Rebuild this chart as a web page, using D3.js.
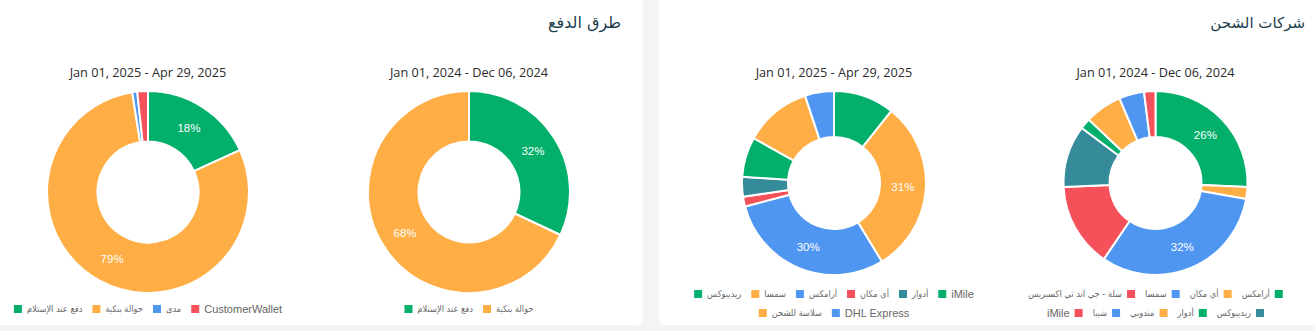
<!DOCTYPE html>
<html>
<head>
<meta charset="utf-8">
<script src="https://cdn.jsdelivr.net/npm/d3@7/dist/d3.min.js"></script>
<style>
  html, body { margin: 0; padding: 0; background: #f4f4f4; }
  svg { display: block; }
</style>
</head>
<body>
<svg id="chart" width="1315" height="331"></svg>
<script>
// ---------- DATA ----------
const palette = ["#02af6b", "#feae45", "#4f96f1", "#f4515b", "#358b9a"];

const panelTitles = ["طرق الدفع", "شركات الشحن"];
const dateLabels = ["Jan 01, 2025 - Apr 29, 2025", "Jan 01, 2024 - Dec 06, 2024"];

const payCats2025 = ["دفع عند الإستلام", "حوالة بنكية", "مدى", "CustomerWallet"];
const payVals2025 = [18.2, 79.3, 0.8, 1.7];

const payCats2024 = ["دفع عند الإستلام", "حوالة بنكية"];
const payVals2024 = [32, 68];

const shipCats2025 = ["ريديبوكس", "سمسا", "أرامكس", "أي مكان", "أدوار", "iMile", "سلاسة للشحن", "DHL Express"];
const shipVals2025 = [10.7, 30.6, 29.6, 1.7, 3.5, 7.0, 11.8, 5.1];

const shipCats2024 = ["أرامكس", "أي مكان", "سمسا", "سلة - جي اند تي اكسبريس", "ريديبوكس", "أدوار", "مندوبي", "شيبا", "iMile"];
const shipVals2024 = [25.7, 2.1, 31.7, 14.8, 10.9, 1.9, 6.5, 4.4, 2.0];

// ---------- LAYOUT ----------
const svg = d3.select("#chart");

// cards
svg.append("rect").attr("x", -10).attr("y", -8).attr("width", 653).attr("height", 333)
  .attr("rx", 7).attr("fill", "#ffffff");
svg.append("rect").attr("x", 659).attr("y", -8).attr("width", 670).attr("height", 333)
  .attr("rx", 7).attr("fill", "#ffffff");

// panel titles
const titleFont = "'DejaVu Sans', 'Noto Sans', sans-serif";
svg.append("text").attr("x", 621).attr("y", 28).attr("text-anchor", "end")
  .attr("font-family", titleFont).attr("font-size", 16).attr("fill", "#1d3d4d")
  .text(panelTitles[0]);
svg.append("text").attr("x", 1305).attr("y", 28).attr("text-anchor", "end")
  .attr("font-family", titleFont).attr("font-size", 15).attr("fill", "#1d3d4d")
  .text(panelTitles[1]);

const charts = [
  { cats: payCats2025, vals: payVals2025, date: dateLabels[0], cx: 148, cy: 192, R: 101, rows: [4], legendY: [309], rtl: false },
  { cats: payCats2024, vals: payVals2024, date: dateLabels[1], cx: 469, cy: 192, R: 101, rows: [2], legendY: [309], rtl: false },
  { cats: shipCats2025, vals: shipVals2025, date: dateLabels[0], cx: 834, cy: 183, R: 92, rows: [6, 2], legendY: [294, 313], rtl: false },
  { cats: shipCats2024, vals: shipVals2024, date: dateLabels[1], cx: 1155.5, cy: 183, R: 92, rows: [4, 5], legendY: [294, 313], rtl: true }
];

const labelFont = "'Liberation Sans', Arial, sans-serif";
const arabicFont = "'DejaVu Sans Condensed', 'DejaVu Sans', sans-serif";
const isArabic = s => /[\u0600-\u06FF]/.test(s);

charts.forEach(c => {
  const g = svg.append("g");
  // date title
  g.append("text").attr("x", c.cx).attr("y", 77).attr("text-anchor", "middle")
    .attr("font-family", "'Open Sans', sans-serif").attr("font-size", 12.7)
    .attr("fill", "#2b2b2b").text(c.date);

  const color = d3.scaleOrdinal().domain(d3.range(c.cats.length)).range(palette);
  const total = d3.sum(c.vals);
  const pie = d3.pie().sort(null).value(d => d.v);
  const data = c.vals.map((v, i) => ({ v, i, cat: c.cats[i] }));
  const arcs = pie(data);
  const arc = d3.arc().innerRadius(c.R * 0.5).outerRadius(c.R);
  const labelArc = d3.arc().innerRadius(c.R * 0.75).outerRadius(c.R * 0.75);

  const dg = g.append("g").attr("transform", `translate(${c.cx},${c.cy})`);
  dg.selectAll("path").data(arcs).join("path")
    .attr("d", arc)
    .attr("fill", d => color(d.data.i))
    .attr("stroke", "#ffffff").attr("stroke-width", 2).attr("stroke-linejoin", "round");

  dg.selectAll("text.pct").data(arcs.filter(d => d.data.v / total * 100 > 15)).join("text")
    .attr("class", "pct")
    .attr("transform", d => `translate(${labelArc.centroid(d)})`)
    .attr("text-anchor", "middle").attr("dy", "0.35em")
    .attr("font-family", labelFont).attr("font-size", 11.5).attr("fill", "#ffffff")
    .text(d => Math.round(d.data.v / total * 100) + "%");

  // legend
  const box = 8, gap = 5, spacing = 10;
  let idx = 0;
  c.rows.forEach((n, r) => {
    const items = d3.range(idx, idx + n);
    idx += n;
    const lg = g.append("g");
    const widths = items.map(i => {
      const ar = isArabic(c.cats[i]);
      const t = lg.append("text")
        .attr("font-family", ar ? arabicFont : labelFont)
        .attr("font-size", ar ? 9.2 : 11)
        .attr("fill", "#666666").attr("y", c.legendY[r]).attr("dy", "0.35em").text(c.cats[i]);
      return { i, t, w: t.node().getComputedTextLength() };
    });
    const totalW = d3.sum(widths, d => d.w + box + gap) + spacing * (widths.length - 1);
    const seq = c.rtl ? widths.slice().reverse() : widths;
    let x = c.cx - totalW / 2;
    seq.forEach(d => {
      if (c.rtl) {
        d.t.attr("x", x);
        lg.append("rect").attr("x", x + d.w + gap).attr("y", c.legendY[r] - box / 2)
          .attr("width", box).attr("height", box).attr("fill", color(d.i));
      } else {
        lg.append("rect").attr("x", x).attr("y", c.legendY[r] - box / 2)
          .attr("width", box).attr("height", box).attr("fill", color(d.i));
        d.t.attr("x", x + box + gap);
      }
      x += d.w + box + gap + spacing;
    });
  });
});
</script>
</body>
</html>
